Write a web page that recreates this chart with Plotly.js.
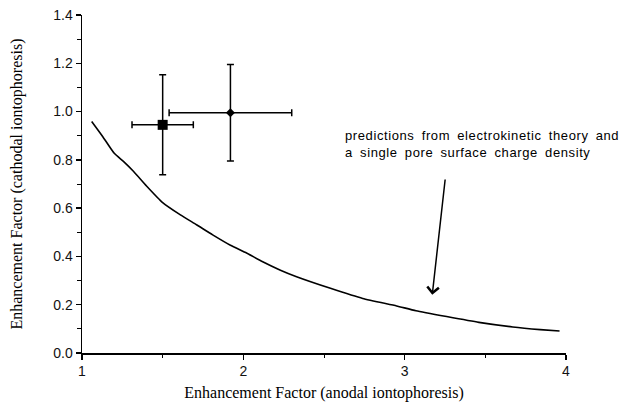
<!DOCTYPE html>
<html>
<head>
<meta charset="utf-8">
<script src="https://cdn.plot.ly/plotly-3.0.1.min.js"></script>
<style>
html,body{margin:0;padding:0;background:#fff;}
#chart{width:626px;height:402px;}
#chart .annotation-text{letter-spacing:0.6px;word-spacing:3px;}
</style>
</head>
<body>
<div id="chart"></div>
<script>
// Theory curve (electrokinetic prediction)
const curveX = [1.06, 1.13, 1.20, 1.26, 1.32, 1.40, 1.50, 1.61, 1.71, 1.81, 1.92, 2.02, 2.12, 2.23, 2.33, 2.54, 2.74, 2.95, 3.07, 3.26, 3.46, 3.67, 3.84, 3.96];
const curveY = [0.959, 0.895, 0.827, 0.792, 0.752, 0.692, 0.623, 0.572, 0.531, 0.489, 0.446, 0.414, 0.378, 0.343, 0.316, 0.268, 0.226, 0.195, 0.175, 0.151, 0.127, 0.108, 0.097, 0.091];

// Measured points
const squareX = [1.50];
const squareY = [0.945];
const squareXErr = [0.19];
const squareYErr = [0.207];

const diamondX = [1.92];
const diamondY = [0.995];
const diamondXErr = [0.38];
const diamondYErr = [0.20];

// Annotation arrow (head and tail in data units)
const arrowHead = [3.171, 0.241];
const arrowTail = [3.252, 0.725];

const xTickVals = [1, 2, 3, 4];
const yTickVals = [0, 0.2, 0.4, 0.6, 0.8, 1.0, 1.2, 1.4];
const yTickText = ['0.0', '0.2', '0.4', '0.6', '0.8', '1.0', '1.2', '1.4'];

const sans = 'Liberation Sans, Arial, sans-serif';
const serif = 'Liberation Serif, Times New Roman, serif';

const traces = [
  {
    x: curveX, y: curveY, type: 'scatter', mode: 'lines',
    line: {color: '#000', width: 1.6, shape: 'spline', smoothing: 0.5},
    hoverinfo: 'skip', showlegend: false
  },
  {
    x: squareX, y: squareY, type: 'scatter', mode: 'markers',
    marker: {symbol: 'square', size: 10, color: '#000'},
    error_x: {type: 'data', array: squareXErr, visible: true, color: '#000', thickness: 1.5, width: 3.5},
    error_y: {type: 'data', array: squareYErr, visible: true, color: '#000', thickness: 1.5, width: 3.5},
    showlegend: false
  },
  {
    x: diamondX, y: diamondY, type: 'scatter', mode: 'markers',
    marker: {symbol: 'diamond', size: 7, color: '#000'},
    error_x: {type: 'data', array: diamondXErr, visible: true, color: '#000', thickness: 1.5, width: 3.5},
    error_y: {type: 'data', array: diamondYErr, visible: true, color: '#000', thickness: 1.5, width: 3.5},
    showlegend: false
  }
];

const layout = {
  width: 626, height: 402,
  margin: {l: 82, r: 60, t: 15, b: 49},
  paper_bgcolor: '#fff', plot_bgcolor: '#fff',
  showlegend: false,
  font: {family: sans, color: '#000', size: 13},
  xaxis: {
    range: [1, 4], tickvals: xTickVals, ticktext: xTickVals.map(String),
    showgrid: false, zeroline: false, showline: true, linecolor: '#000', linewidth: 1.5,
    ticks: 'outside', ticklen: 5, tickwidth: 1.5, tickcolor: '#000',
    minor: {dtick: 0.5, tick0: 1, ticks: 'outside', ticklen: 3, tickwidth: 1, tickcolor: '#000', showgrid: false},
    tickfont: {family: sans, size: 14, color: '#111'},
    title: {text: 'Enhancement Factor (anodal iontophoresis)', font: {family: serif, size: 16, color: '#000'}, standoff: 8},
    fixedrange: true
  },
  yaxis: {
    range: [0, 1.4], tickvals: yTickVals, ticktext: yTickText,
    showgrid: false, zeroline: false, showline: true, linecolor: '#000', linewidth: 1.5,
    ticks: 'outside', ticklen: 5, tickwidth: 1.5, tickcolor: '#000',
    minor: {dtick: 0.1, tick0: 0, ticks: 'outside', ticklen: 4, tickwidth: 1, tickcolor: '#000', showgrid: false},
    tickfont: {family: sans, size: 14, color: '#111'},
    title: {text: 'Enhancement Factor (cathodal iontophoresis)', font: {family: serif, size: 16, color: '#000'}, standoff: 26},
    fixedrange: true
  },
  annotations: [
    {
      x: 2.616, y: 0.866, xref: 'x', yref: 'y', xanchor: 'left', yanchor: 'middle', align: 'left',
      text: 'predictions from electrokinetic theory and<br>a single pore surface charge density',
      showarrow: false, font: {family: sans, size: 13, color: '#000'}
    },
    {
      x: arrowHead[0], y: arrowHead[1], ax: arrowTail[0], ay: arrowTail[1],
      xref: 'x', yref: 'y', axref: 'x', ayref: 'y', text: '',
      showarrow: true, arrowhead: 4, arrowsize: 1.5, arrowwidth: 1.5, arrowcolor: '#000'
    }
  ]
};

Plotly.newPlot('chart', traces, layout, {displayModeBar: false, staticPlot: true});
</script>
</body>
</html>
